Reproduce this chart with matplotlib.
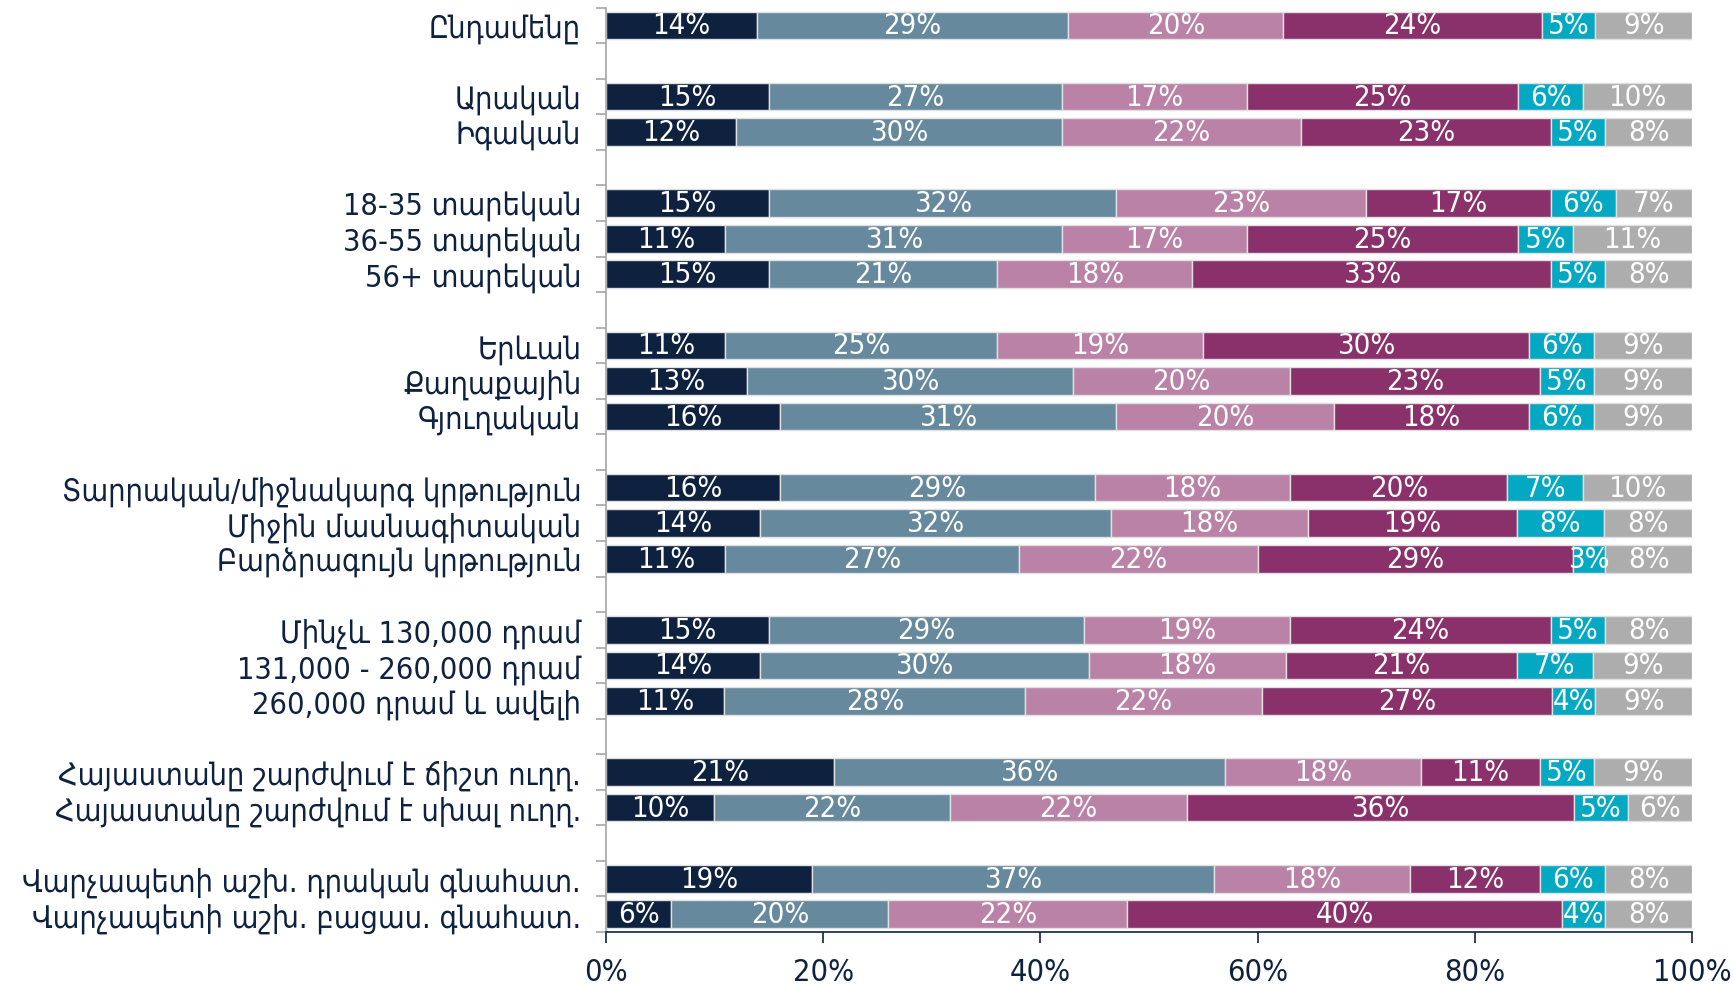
import numpy as np
import matplotlib
matplotlib.use('Agg')
from matplotlib import pyplot as plt

# Row labels, top to bottom; None marks the empty spacer rows between groups
labels = [
    'Ընդամենը', None,
    'Արական', 'Իգական', None,
    '18-35 տարեկան', '36-55 տարեկան', '56+ տարեկան', None,
    'Երևան', 'Քաղաքային', 'Գյուղական', None,
    'Տարրական/միջնակարգ կրթություն', 'Միջին մասնագիտական', 'Բարձրագույն կրթություն', None,
    'Մինչև 130,000 դրամ', '131,000 - 260,000 դրամ', '260,000 դրամ և ավելի', None,
    'Հայաստանը շարժվում է ճիշտ ուղղ.', 'Հայաստանը շարժվում է սխալ ուղղ.', None,
    'Վարչապետի աշխ. դրական գնահատ.', 'Վարչապետի աշխ. բացաս. գնահատ.',
]

# Percentages for the six answer categories (one value per non-empty row)
s1 = [14, 15, 12, 15, 11, 15, 11, 13, 16, 16, 14, 11, 15, 14, 11, 21, 10, 19, 6]
s2 = [29, 27, 30, 32, 31, 21, 25, 30, 31, 29, 32, 27, 29, 30, 28, 36, 22, 37, 20]
s3 = [20, 17, 22, 23, 17, 18, 19, 20, 20, 18, 18, 22, 19, 18, 22, 18, 22, 18, 22]
s4 = [24, 25, 23, 17, 25, 33, 30, 23, 18, 20, 19, 29, 24, 21, 27, 11, 36, 12, 40]
s5 = [5, 6, 5, 6, 5, 5, 6, 5, 6, 7, 8, 3, 5, 7, 4, 5, 5, 6, 4]
s6 = [9, 10, 8, 7, 11, 8, 9, 9, 9, 10, 8, 8, 8, 9, 9, 9, 6, 8, 8]

colors = ['#0e2240', '#66899d', '#bb82a8', '#8a316b', '#03a9c3', '#adadad']
navy = '#0e2240'

plt.rcParams['font.family'] = ['DejaVu Sans']
plt.rcParams['font.stretch'] = 'condensed'

rows = [i for i, l in enumerate(labels) if l is not None]
data = np.array([s1, s2, s3, s4, s5, s6], dtype=float)
shares = data / data.sum(axis=0) * 100  # bars fill to 100%

fig = plt.figure(figsize=(17.34, 9.87), dpi=100)
ax = fig.add_axes([0.3495, 0.0547, 0.6263, 0.9365])

left = np.zeros(len(rows))
for k in range(6):
    bars = ax.barh(rows, shares[k], left=left, height=0.78, color=colors[k],
                   edgecolor='#e0e0e0', linewidth=1.0)
    for b, v in zip(bars, data[k]):
        ax.text(b.get_x() + b.get_width() / 2, b.get_y() + b.get_height() / 2,
                f'{int(v)}%', ha='center', va='center', color='white', fontsize=21)
    left += shares[k]

ax.set_xlim(0, 100)
ax.set_ylim(len(labels) - 0.5, -0.5)
ax.set_xticks(np.arange(0, 101, 20))
ax.set_xticklabels([f'{t}%' for t in range(0, 101, 20)], fontsize=22, color=navy)
ax.set_yticks(rows)
ax.set_yticklabels([labels[i] for i in rows], fontsize=22, color=navy)
ax.set_yticks(np.arange(-0.5, len(labels)), minor=True)
ax.tick_params(axis='y', which='major', length=0, pad=18)
ax.tick_params(axis='y', which='minor', length=7, color='#a6a6a6', width=1.2)
ax.tick_params(axis='x', length=8, color=navy, width=1.2, pad=10)

for side in ['top', 'right']:
    ax.spines[side].set_visible(False)
ax.spines['left'].set_color('#a6a6a6')
ax.spines['left'].set_linewidth(1.2)
ax.spines['bottom'].set_color(navy)
ax.spines['bottom'].set_linewidth(1.2)

fig.savefig('out.png', dpi=100)
